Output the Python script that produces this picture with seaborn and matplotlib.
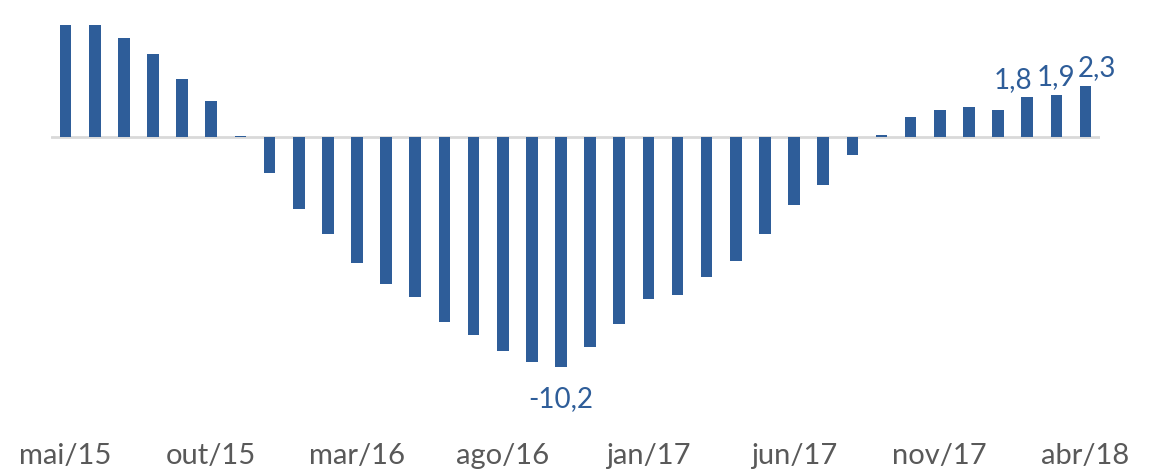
import numpy as np
import pandas as pd
import matplotlib
matplotlib.use('Agg')
import matplotlib.pyplot as plt
import seaborn as sns

# monthly values (%), mai/15 .. abr/18
months = ['mai/15', 'jun/15', 'jul/15', 'ago/15', 'set/15', 'out/15',
          'nov/15', 'dez/15', 'jan/16', 'fev/16', 'mar/16', 'abr/16',
          'mai/16', 'jun/16', 'jul/16', 'ago/16', 'set/16', 'out/16',
          'nov/16', 'dez/16', 'jan/17', 'fev/17', 'mar/17', 'abr/17',
          'mai/17', 'jun/17', 'jul/17', 'ago/17', 'set/17', 'out/17',
          'nov/17', 'dez/17', 'jan/18', 'fev/18', 'mar/18', 'abr/18']
values = [5.0, 5.0, 4.4, 3.7, 2.6, 1.6,
          0.05, -1.6, -3.2, -4.3, -5.6, -6.5,
          -7.1, -8.2, -8.8, -9.5, -10.0, -10.2,
          -9.3, -8.3, -7.2, -7.0, -6.2, -5.5,
          -4.3, -3.0, -2.1, -0.8, 0.1, 0.9,
          1.2, 1.35, 1.2, 1.8, 1.9, 2.3]
tick_labels = ['mai/15', 'out/15', 'mar/16', 'ago/16', 'jan/17', 'jun/17', 'nov/17', 'abr/18']
labelled = {'out/16': '-10,2', 'fev/18': '1,8', 'mar/18': '1,9', 'abr/18': '2,3'}

BAR = '#2E5D99'
GREY = '#595959'

sns.set_style('white')
plt.rcParams['font.family'] = ['Lato', 'DejaVu Sans']

df = pd.DataFrame({'mes': months, 'valor': values})

fig = plt.figure(figsize=(11.52, 4.69), dpi=100)
ax = fig.add_axes([0.0443, 0.165, 0.9106, 0.811])

sns.barplot(data=df, x='mes', y='valor', order=months, color=BAR,
            saturation=1, width=0.4, linewidth=0, ax=ax, zorder=2)
ax.axhline(0, color='#D9D9D9', lw=2, zorder=1)

ax.set_xlim(-0.5, len(months) - 0.5)
ax.set_ylim(-11.3, 5.6)
ax.set_yticks([])
ax.set_xlabel('')
ax.set_ylabel('')
ticks = [months.index(t) for t in tick_labels]
ax.set_xticks(ticks)
ax.set_xticklabels(tick_labels, fontsize=21, color=GREY)
ax.tick_params(axis='x', length=0, pad=37)
sns.despine(ax=ax, left=True, bottom=True)

# data labels (Excel nudges the crowded ones sideways)
nudges = {'out/16': (0, -14), 'fev/18': (-10, 3), 'mar/18': (0, 3), 'abr/18': (8, 3)}
for mes, txt in labelled.items():
    i = months.index(mes)
    v = values[i]
    dx, dy = nudges[mes]
    ax.annotate(txt, (i, v), xytext=(dx, dy), textcoords='offset points',
                ha='center', va='top' if v < 0 else 'bottom',
                fontsize=20, color=BAR)

fig.savefig('out.png', dpi=100)
